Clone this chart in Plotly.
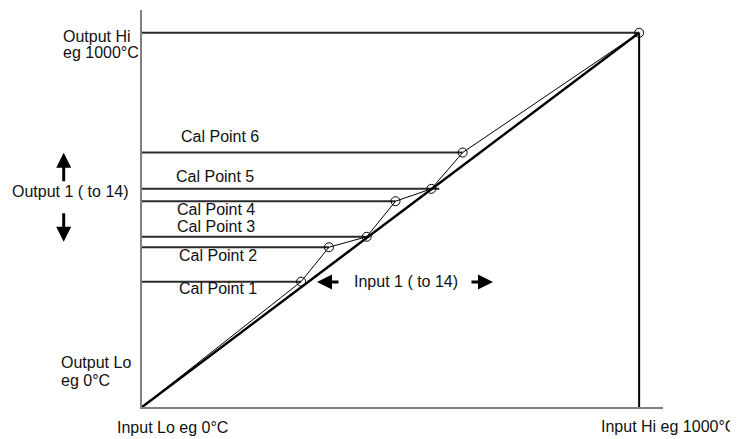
"""
Calibration diagram: input vs output with calibration points
"""
import plotly.graph_objs as go

# scale ends (°C)
input_range = [0, 1000]
output_range = [0, 1000]

# calibration points
cal_names = ["Cal Point 1", "Cal Point 2", "Cal Point 3",
             "Cal Point 4", "Cal Point 5", "Cal Point 6"]
cal_input = [320, 376, 452, 510, 582, 645]
cal_output = [335, 427, 455, 550, 583, 680]
# where each horizontal guide stops (point 5 runs a bit past its point)
guide_end = [320, 376, 452, 510, 598, 645]

FONT = "Liberation Sans, Arial, sans-serif"
TXT = "#111111"
GUIDE = "#2a2a2a"

fig = go.Figure()

# horizontal guides from the output axis to each point
for yv, xe in zip(cal_output, guide_end):
    fig.add_trace(go.Scatter(
        x=[input_range[0], xe], y=[yv, yv],
        mode='lines', line=dict(color=GUIDE, width=2),
        hoverinfo='skip', showlegend=False
    ))

# top line (output hi) and right line (input hi)
fig.add_trace(go.Scatter(
    x=[input_range[0], input_range[1]], y=[output_range[1], output_range[1]],
    mode='lines', line=dict(color=GUIDE, width=2),
    hoverinfo='skip', showlegend=False
))
fig.add_trace(go.Scatter(
    x=[input_range[1], input_range[1]], y=[output_range[0], output_range[1]],
    mode='lines', line=dict(color='black', width=2),
    hoverinfo='skip', showlegend=False
))

# ideal straight line
fig.add_trace(go.Scatter(
    x=input_range, y=output_range,
    mode='lines', line=dict(color='black', width=2.5),
    hoverinfo='skip', showlegend=False
))

# calibrated curve through the points
fig.add_trace(go.Scatter(
    x=[input_range[0]] + cal_input + [input_range[1]],
    y=[output_range[0]] + cal_output + [output_range[1]],
    mode='lines', line=dict(color='black', width=1),
    hoverinfo='skip', showlegend=False
))
fig.add_trace(go.Scatter(
    x=cal_input + [input_range[1]],
    y=cal_output + [output_range[1]],
    mode='markers',
    marker=dict(symbol='circle-open', size=9, color='black', line=dict(width=1)),
    hoverinfo='skip', showlegend=False, cliponaxis=False
))

ann = []


def label(x, y, text, xanchor='left', ref='data'):
    r = '' if ref == 'data' else ' domain'
    ann.append(dict(x=x, y=y, text=text, showarrow=False, xanchor=xanchor,
                    yanchor='middle', xref='x' + r, yref='y' + r,
                    font=dict(family=FONT, size=16, color=TXT)))


def arrow(x, y, ax, ay, ref='data'):
    r = '' if ref == 'data' else ' domain'
    ann.append(dict(x=x, y=y, ax=ax, ay=ay, text='', showarrow=True,
                    xref='x' + r, yref='y' + r,
                    arrowhead=2, arrowsize=1, arrowwidth=3, arrowcolor='black',
                    standoff=0))


# labels outside the axes, in axis-domain fractions
label(-0.1555, 0.9345, "Output Hi", ref='domain')
label(-0.1555, 0.8917, "eg 1000°C", ref='domain')
label(-0.1593, 0.1116, "Output Lo", ref='domain')
label(-0.1593, 0.0655, "eg 0°C", ref='domain')
label(0.0595, -0.0521, "Input Lo eg 0°C", 'center', ref='domain')
label(1.0115, -0.0479, "Input Hi eg 1000°C", 'center', ref='domain')

label(-0.1363, 0.5423, "Output 1 ( to 14)", 'center', ref='domain')
arrow(-0.1503, 0.6406, 0, 30, ref='domain')
arrow(-0.1503, 0.4164, 0, -30, ref='domain')

# labels inside the axes
cal_label_x = [70, 70, 66, 66, 64, 74]
cal_label_y = [316, 404, 482, 527, 616, 722]
for name, lx, ly in zip(cal_names, cal_label_x, cal_label_y):
    label(lx, ly, name)

label(531, 335, "Input 1 ( to 14)", 'center')
arrow(352, 334, 23, 0)
arrow(706, 334, -23, 0)

fig.update_layout(
    width=738, height=439,
    margin=dict(l=134, r=83, t=2, b=40),
    plot_bgcolor='white', paper_bgcolor='white',
    showlegend=False,
    annotations=ann,
    xaxis=dict(range=[0, 1048], showgrid=False, zeroline=False,
               showticklabels=False, ticks='', showline=True,
               linecolor='#808080', linewidth=1.5),
    yaxis=dict(range=[0, 1061], showgrid=False, zeroline=False,
               showticklabels=False, ticks='', showline=True,
               linecolor='#808080', linewidth=1.5),
)

fig.write_html("out.html")
